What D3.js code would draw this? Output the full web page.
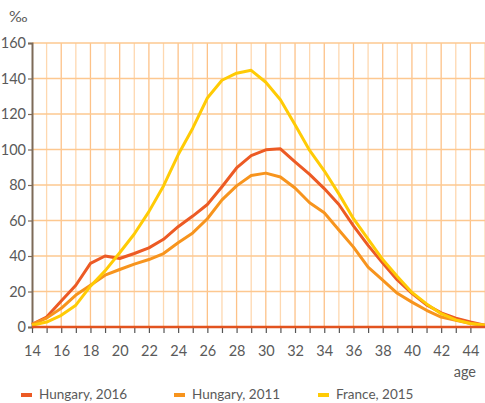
<!DOCTYPE html>
<html>
<head>
<meta charset="utf-8">
<script src="https://cdn.jsdelivr.net/npm/d3@7"></script>
<style>
  body { margin: 0; background: #fff; }
  text { font-family: Lato, sans-serif; fill: #5a5a5a; }
</style>
</head>
<body>
<div id="chart"></div>
<script>
let height = 403,
    width = 485,
    margin = ({ top: 43, right: 0, bottom: 76, left: 32 });

// ages 14..45
const ages = d3.range(14, 46);
const hungary2016 = [1.5, 5.6, 14.7, 23.5, 35.8, 40, 38.6, 41.4, 44.6, 49.4, 56.5, 62.5, 69, 79, 89.6, 96.6, 99.8, 100.4, 93, 86, 78, 69, 57, 46, 36, 26.5, 19, 12.5, 8, 5, 2.8, 1];
const hungary2011 = [1.5, 5, 10.5, 18, 23.5, 29.2, 32.4, 35.4, 38, 41.4, 47.5, 53, 61, 71.6, 79.5, 85.3, 86.7, 84.5, 78.3, 70, 64.4, 54.6, 45, 33.7, 26.4, 19, 14, 9.4, 5.6, 3.8, 2, 1];
const france2015 = [1, 2.8, 6.6, 12.3, 23, 31.6, 41.8, 52.4, 65, 79.5, 97, 112, 129, 139, 143, 144.6, 137.9, 128, 114, 99.5, 88, 75, 61, 49.5, 38, 28.5, 19.5, 13, 7.5, 4, 2, 1];
const yTicks = [0, 20, 40, 60, 80, 100, 120, 140, 160];

const series = [
  { name: "Hungary, 2016", values: hungary2016, color: "#ec5a24" },
  { name: "Hungary, 2011", values: hungary2011, color: "#f7941d" },
  { name: "France, 2015", values: france2015, color: "#ffcb05" }
];

const svg = d3.select("#chart")
  .append("svg")
  .attr("width", width)
  .attr("height", height);

let x = d3.scaleLinear()
  .domain([14, 45])
  .range([margin.left, 485]);

let y = d3.scaleLinear()
  .domain([0, 160])
  .range([height - margin.bottom, margin.top]);

// grid
svg.append("g")
  .selectAll("line")
  .data(ages.slice(1))
  .join("line")
  .attr("x1", d => x(d)).attr("x2", d => x(d))
  .attr("y1", y(160)).attr("y2", y(0))
  .attr("stroke", (d, i) => i % 2 ? "#fdc288" : "#fed8b0")
  .attr("stroke-width", 1.3);

svg.append("g")
  .selectAll("line")
  .data(yTicks.slice(1))
  .join("line")
  .attr("x1", margin.left).attr("x2", width)
  .attr("y1", d => y(d)).attr("y2", d => y(d))
  .attr("stroke", "#fdc890")
  .attr("stroke-width", 1.3);

// y axis
const yAxis = svg.append("g")
  .attr("transform", `translate(${margin.left},0)`)
  .call(d3.axisLeft(y).tickValues(yTicks).tickSize(4).tickPadding(2));
yAxis.select(".domain").attr("stroke", "#7d6a58").attr("stroke-width", 2);
yAxis.selectAll(".tick line").attr("stroke", "#7d6a58").attr("stroke-width", 1.2);
yAxis.selectAll(".tick text").style("font-size", "14.5px").style("fill", "#5a5a5a");

// x axis
const xAxis = svg.append("g")
  .attr("transform", `translate(0,${y(0)})`)
  .call(d3.axisBottom(x).tickValues(ages.slice(0, 31)).tickSize(6).tickPadding(13)
    .tickFormat(d => d % 2 === 0 ? d : ""));
xAxis.select(".domain").remove();
xAxis.selectAll(".tick line").attr("stroke", "#555").attr("stroke-width", 1.2);
xAxis.selectAll(".tick text").style("font-size", "14.5px").style("fill", "#5a5a5a");

// lines
const line = d3.line()
  .x((d, i) => x(ages[i]))
  .y(d => y(d));

svg.append("g")
  .selectAll("path")
  .data(series)
  .join("path")
  .attr("fill", "none")
  .attr("stroke", d => d.color)
  .attr("stroke-width", 3)
  .attr("stroke-linejoin", "round")
  .attr("d", d => line(d.values));

// baseline
svg.append("line")
  .attr("x1", margin.left).attr("x2", width)
  .attr("y1", y(0)).attr("y2", y(0))
  .attr("stroke", "#e2531f")
  .attr("stroke-width", 2.5);

// unit labels
svg.append("text")
  .attr("x", 9).attr("y", 22)
  .style("font-size", "16px")
  .text("‰");

svg.append("text")
  .attr("x", 476).attr("y", 377)
  .attr("text-anchor", "end")
  .style("font-size", "14.5px")
  .text("age");

// legend
const legend = svg.append("g")
  .selectAll("g")
  .data(series)
  .join("g")
  .attr("transform", (d, i) => `translate(${[21, 174, 318][i]},0)`);

legend.append("rect")
  .attr("x", 0).attr("y", 393)
  .attr("width", 11).attr("height", 4)
  .attr("fill", d => d.color);

legend.append("text")
  .attr("x", 18).attr("y", 399)
  .style("font-size", "13.5px")
  .text(d => d.name);
</script>
</body>
</html>
